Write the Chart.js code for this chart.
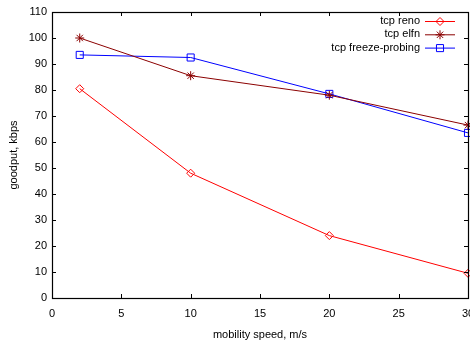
<!DOCTYPE html>
<html>
<head>
<meta charset="utf-8">
<script src="https://cdn.jsdelivr.net/npm/chart.js@4"></script>
<style>
  html, body { margin: 0; padding: 0; background: #fff; }
  #wrap { width: 470px; height: 343px; position: relative; }
</style>
</head>
<body>
<div id="wrap"><canvas id="goodputChart"></canvas></div>
<script>
// values
const speeds = [2, 10, 20, 30];
const renoGoodput = [80.5, 48, 24, 9.5];
const elfnGoodput = [100, 85.5, 78, 66.5];
const freezeGoodput = [93.5, 92.5, 78.5, 63.5];

const xTicks = [0, 5, 10, 15, 20, 25, 30];
const yTicks = [0, 10, 20, 30, 40, 50, 60, 70, 80, 90, 100, 110];

const FONT = 'Liberation Sans, Arial, sans-serif';

const toPoints = (ys) => speeds.map((x, i) => ({ x: x, y: ys[i] }));

// frame with gnuplot-style inward ticks on all four sides
const framePlugin = {
    id: 'frame',
    afterDatasetsDraw(chart) {
        const { ctx, chartArea: a, scales } = chart;
        ctx.save();
        ctx.strokeStyle = '#000';
        ctx.lineWidth = 1;
        ctx.beginPath();
        xTicks.forEach(v => {
            const px = Math.round(scales.x.getPixelForValue(v)) + 0.5;
            ctx.moveTo(px, a.bottom); ctx.lineTo(px, a.bottom - 4);
            ctx.moveTo(px, a.top); ctx.lineTo(px, a.top + 4);
        });
        yTicks.forEach(v => {
            const py = Math.round(scales.y.getPixelForValue(v)) + 0.5;
            ctx.moveTo(a.left, py); ctx.lineTo(a.left + 4, py);
            ctx.moveTo(a.right, py); ctx.lineTo(a.right - 4, py);
        });
        ctx.stroke();
        ctx.lineWidth = 1.2;
        ctx.strokeRect(Math.round(a.left) + 0.5, Math.round(a.top) + 0.5,
            Math.round(a.right - a.left), Math.round(a.bottom - a.top));
        ctx.restore();
    }
};

// legend: label text right-aligned, then line sample with marker
const keyPlugin = {
    id: 'key',
    afterDraw(chart) {
        const { ctx } = chart;
        ctx.save();
        ctx.font = '11px ' + FONT;
        ctx.textAlign = 'right';
        ctx.textBaseline = 'middle';
        chart.data.datasets.forEach((ds, i) => {
            const y = 21 + i * 13.3;
            ctx.fillStyle = '#000';
            ctx.fillText(ds.label, 420, y);
            ctx.strokeStyle = ds.borderColor;
            ctx.lineWidth = 1;
            ctx.beginPath();
            ctx.moveTo(425, y + 0.5); ctx.lineTo(455, y + 0.5);
            ctx.stroke();
            ctx.fillStyle = 'rgba(0,0,0,0)';
            Chart.helpers.drawPoint(ctx, {
                pointStyle: ds.pointStyle,
                radius: ds.pointRadius,
                borderWidth: 1
            }, 440, y + 0.5);
        });
        ctx.restore();
    }
};

const makeSet = (label, data, color, style, radius) => ({
    label: label,
    data: toPoints(data),
    borderColor: color,
    backgroundColor: color,
    pointBackgroundColor: 'rgba(0,0,0,0)',
    pointBorderColor: color,
    pointStyle: style,
    pointRadius: radius,
    pointBorderWidth: 1,
    borderWidth: 1,
    tension: 0,
    clip: false
});

new Chart(document.getElementById('goodputChart'), {
    type: 'line',
    data: {
        datasets: [
            makeSet('tcp reno', renoGoodput, '#ff0000', 'rectRot', 4),
            makeSet('tcp elfn', elfnGoodput, '#8b0000', 'star', 4.5),
            makeSet('tcp freeze-probing', freezeGoodput, '#0000ff', 'rect', 5)
        ]
    },
    options: {
        responsive: true,
        maintainAspectRatio: false,
        animation: false,
        layout: { autoPadding: false, padding: { top: 12, right: 2, left: 0, bottom: 0 } },
        plugins: {
            legend: { display: false },
            tooltip: { enabled: false }
        },
        scales: {
            x: {
                type: 'linear',
                min: 0,
                max: 30,
                afterBuildTicks: (s) => { s.ticks = xTicks.map(v => ({ value: v })); },
                afterFit: (s) => { s.height = 45; s.paddingLeft = 0; s.paddingRight = 0; },
                grid: { display: false, drawTicks: false },
                border: { display: false },
                ticks: { color: '#000', font: { family: FONT, size: 11 }, padding: 9, maxRotation: 0 },
                title: {
                    display: true,
                    text: 'mobility speed, m/s',
                    color: '#000',
                    font: { family: FONT, size: 11 },
                    padding: { top: 0, bottom: 1 }
                }
            },
            y: {
                min: 0,
                max: 110,
                afterBuildTicks: (s) => { s.ticks = yTicks.map(v => ({ value: v })); },
                afterFit: (s) => { s.width = 52; s.paddingTop = 0; s.paddingBottom = 0; },
                grid: { display: false, drawTicks: false },
                border: { display: false },
                ticks: { color: '#000', font: { family: FONT, size: 11 }, padding: 5 },
                title: {
                    display: true,
                    text: 'goodput, kbps',
                    color: '#000',
                    font: { family: FONT, size: 11 },
                    padding: { top: 7, bottom: 0 }
                }
            }
        }
    },
    plugins: [framePlugin, keyPlugin]
});
</script>
</body>
</html>
